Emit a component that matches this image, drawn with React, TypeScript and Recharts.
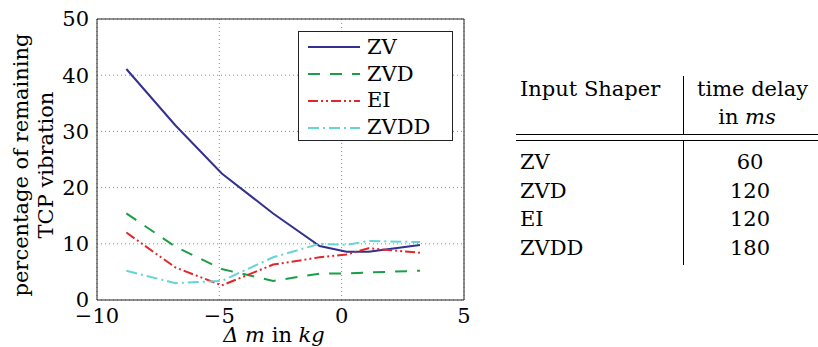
import {
  LineChart,
  Line,
  XAxis,
  YAxis,
  CartesianGrid,
  ReferenceArea
} from "recharts";

// Δm in kg at which the vibration was measured
const massOffsets = [-8.8, -6.8, -4.9, -2.8, -0.9, 0.2, 1.1, 3.2];

// percentage of remaining TCP vibration per input shaper
const zvValues = [41.1, 31.1, 22.5, 15.4, 9.6, 8.6, 8.6, 9.8];
const zvdValues = [15.4, 9.5, 5.5, 3.4, 4.7, 4.7, 4.9, 5.2];
const eiValues = [12.0, 5.8, 2.6, 6.3, 7.6, 8.1, 9.2, 8.4];
const zvddValues = [5.2, 3.0, 3.4, 7.6, 10.0, 9.8, 10.5, 10.3];

const xTicks = [-10, -5, 0, 5];
const yTicks = [0, 10, 20, 30, 40, 50];

// table on the right
const shaperNames = ["ZV", "ZVD", "EI", "ZVDD"];
const timeDelays = [60, 120, 120, 180];

const FONT = "'DejaVu Serif', serif";
const FS = 21;

const series = [
  { key: "zv", name: "ZV", color: "#33308f", dash: undefined },
  { key: "zvd", name: "ZVD", color: "#1a9e48", dash: "12 10" },
  { key: "ei", name: "EI", color: "#e2272b", dash: "10 3 2 3 2 3" },
  { key: "zvdd", name: "ZVDD", color: "#66d4d4", dash: "11 4 2 4" }
];

const data = massOffsets.map((m, i) => ({
  mass: m,
  zv: zvValues[i],
  zvd: zvdValues[i],
  ei: eiValues[i],
  zvdd: zvddValues[i]
}));

const fmt = (v: number) => (v < 0 ? "\u2212" + Math.abs(v) : String(v));

function LegendBox() {
  return (
    <div
      style={{
        position: "absolute",
        left: 298,
        top: 31,
        width: 155,
        height: 110,
        border: "1px solid #222",
        boxSizing: "border-box",
        background: "#fff",
        fontFamily: FONT,
        fontSize: FS,
        paddingTop: 2
      }}
    >
      {series.map((s) => (
        <div key={s.key} style={{ display: "flex", alignItems: "center", height: 26.8 }}>
          <svg width={59} height={10} style={{ marginLeft: 9 }}>
            <line
              x1={0}
              y1={5}
              x2={52}
              y2={5}
              stroke={s.color}
              strokeWidth={2}
              strokeDasharray={s.dash}
            />
          </svg>
          <span style={{ lineHeight: 1 }}>{s.name}</span>
        </div>
      ))}
    </div>
  );
}

function YLabel() {
  return (
    <g fontFamily={FONT} fontSize={FS} fill="#000">
      <text x={21} y={165} textAnchor="middle" transform="rotate(-90 21 165)" dy="0.35em">
        percentage of remaining
      </text>
      <text x={46} y={165} textAnchor="middle" transform="rotate(-90 46 165)" dy="0.35em">
        TCP vibration
      </text>
    </g>
  );
}

function XLabel() {
  return (
    <text x={274} y={342} textAnchor="middle" fontFamily={FONT} fontSize={FS} fill="#000">
      <tspan fontStyle="italic">{"\u0394 m"}</tspan>
      <tspan>{" in "}</tspan>
      <tspan fontStyle="italic">kg</tspan>
    </text>
  );
}

const cell = {
  position: "absolute" as const,
  fontFamily: FONT,
  fontSize: FS,
  lineHeight: "24px",
  whiteSpace: "nowrap" as const
};

function ShaperTable() {
  return (
    <div style={{ position: "absolute", left: 0, top: 0 }}>
      <div style={{ ...cell, left: 520, top: 77 }}>Input Shaper</div>
      <div style={{ ...cell, left: 697, width: 100, textAlign: "center", top: 77 }}>time delay</div>
      <div style={{ ...cell, left: 697, width: 100, textAlign: "center", top: 105 }}>
        in <i>ms</i>
      </div>
      <div style={{ position: "absolute", left: 683, top: 76, width: 1, height: 58, background: "#000" }} />
      <div style={{ position: "absolute", left: 516, top: 134, width: 302, height: 1, background: "#000" }} />
      <div style={{ position: "absolute", left: 516, top: 140, width: 302, height: 1, background: "#000" }} />
      <div style={{ position: "absolute", left: 683, top: 141, width: 1, height: 124, background: "#000" }} />
      {shaperNames.map((name, i) => (
        <div key={name}>
          <div style={{ ...cell, left: 520, top: 150 + i * 28.7 }}>{name}</div>
          <div style={{ ...cell, left: 700, width: 100, textAlign: "center", top: 150 + i * 28.7 }}>
            {timeDelays[i]}
          </div>
        </div>
      ))}
    </div>
  );
}

export default function App() {
  return (
    <div style={{ position: "absolute", left: 0, top: 0, width: 818, height: 347, background: "#fff" }}>
      <LineChart
        width={818}
        height={347}
        data={data}
        margin={{ top: 19, right: 354, bottom: 17, left: 37 }}
      >
        <CartesianGrid stroke="#8a8a8a" strokeDasharray="1 3" />
        <XAxis
          dataKey="mass"
          type="number"
          domain={[-10, 5]}
          ticks={xTicks}
          tickFormatter={fmt}
          tickLine={false}
          axisLine={false}
          height={30}
          tick={{ fontFamily: FONT, fontSize: FS, fill: "#000" }}
          label={{ content: () => <XLabel /> }}
        />
        <YAxis
          type="number"
          domain={[0, 50]}
          ticks={yTicks}
          tickLine={false}
          axisLine={false}
          width={60}
          tick={{ fontFamily: FONT, fontSize: FS, fill: "#000" }}
          label={{ content: () => <YLabel /> }}
        />
        <ReferenceArea x1={-10} x2={5} y1={0} y2={50} fill="none" stroke="#222" strokeWidth={1} />
        {series.map((s) => (
          <Line
            key={s.key}
            type="linear"
            dataKey={s.key}
            name={s.name}
            stroke={s.color}
            strokeWidth={2}
            strokeDasharray={s.dash}
            dot={false}
            activeDot={false}
            isAnimationActive={false}
          />
        ))}
      </LineChart>
      <LegendBox />
      <ShaperTable />
    </div>
  );
}
